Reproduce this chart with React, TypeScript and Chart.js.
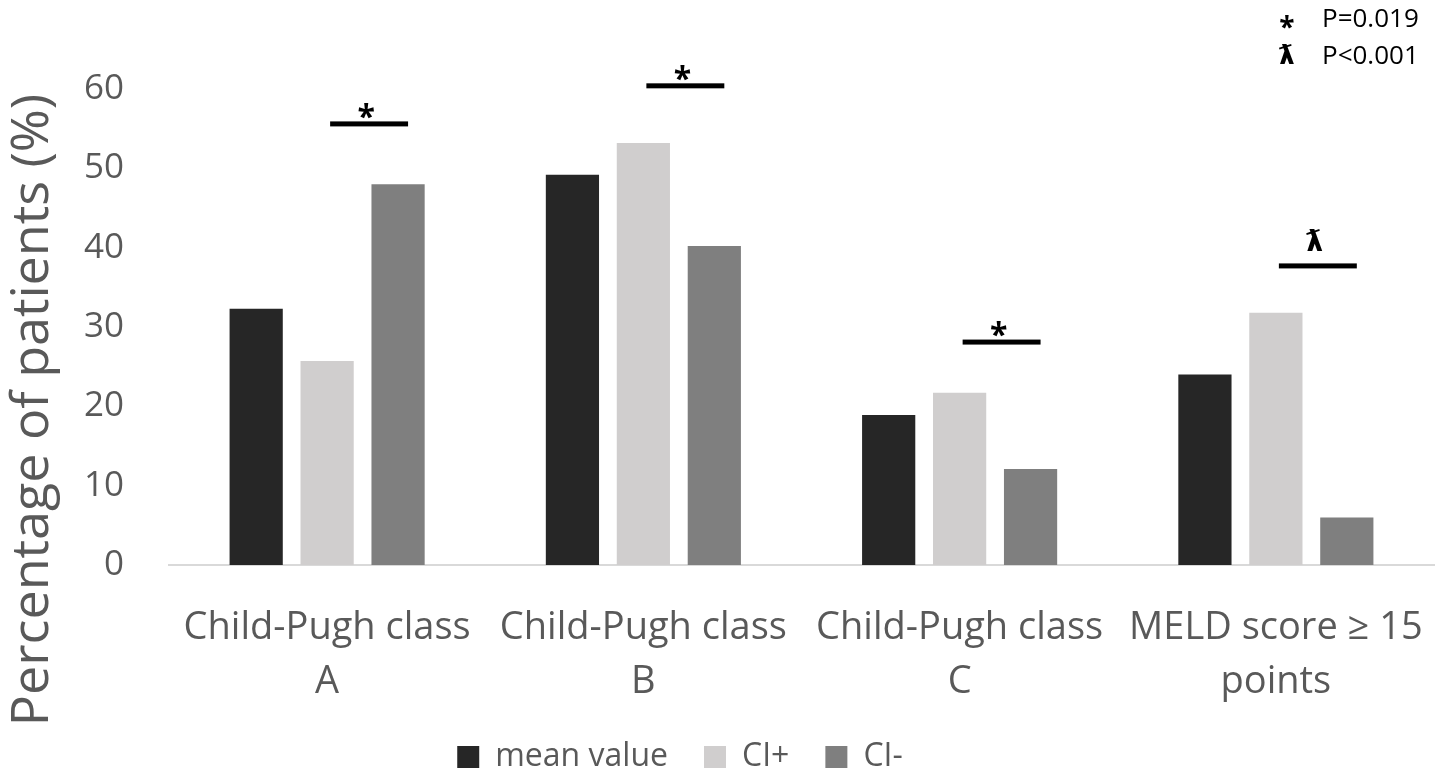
import { useEffect, useRef } from "react";
import { Chart, registerables } from "chart.js";

Chart.register(...registerables);

// Categories (two-line tick labels)
const categories: string[][] = [
  ["Child-Pugh class", "A"],
  ["Child-Pugh class", "B"],
  ["Child-Pugh class", "C"],
  ["MELD score ≥ 15", "points"],
];

// Series values, percentage of patients
const seriesNames = ["mean value", "CI+", "CI-"];
const meanValues = [32.3, 49.2, 18.9, 24.0];
const ciPlusValues = [25.7, 53.2, 21.7, 31.8];
const ciMinusValues = [48.0, 40.2, 12.1, 6.0];

// Y axis range and tick step
const yMin = 0;
const yMax = 60;
const yStep = 10;

// Significance brackets between CI+ and CI- for each category
const sigSymbols = ["*", "*", "*", "ƛ"];
const sigLevels = [55.6, 60.4, 28.1, 37.7];

// P-value key in the top-right corner
const keySymbols = ["*", "ƛ"];
const keyTexts = ["P=0.019", "P<0.001"];

const yTitle = "Percentage of patients (%)";

const FONT = "'Open Sans', 'DejaVu Sans', sans-serif";
const SYMBOL_FONT = "'DejaVu Sans', sans-serif";
const TEXT_GRAY = "#595959";
const COLORS = ["#262626", "#D0CECE", "#7F7F7F"];

const annotations = {
  id: "annotations",
  afterDatasetsDraw(chart: any) {
    const { ctx } = chart;
    const y = chart.scales.y;
    const plusMeta = chart.getDatasetMeta(1);
    const minusMeta = chart.getDatasetMeta(2);
    ctx.save();
    ctx.fillStyle = "#000";
    ctx.textAlign = "center";
    sigLevels.forEach((lvl, i) => {
      const x0 = plusMeta.data[i].x + 3;
      const x1 = minusMeta.data[i].x + 10;
      const py = y.getPixelForValue(lvl);
      ctx.fillRect(x0, py - 2.5, x1 - x0, 5);
      const cx = (x0 + x1) / 2 - 3;
      if (sigSymbols[i] === "*") {
        ctx.font = `bold 32px ${FONT}`;
        ctx.textBaseline = "alphabetic";
        ctx.fillText(sigSymbols[i], cx, py + 4);
      } else {
        ctx.font = `bold 28px ${SYMBOL_FONT}`;
        ctx.textBaseline = "middle";
        ctx.fillText(sigSymbols[i], cx, py - 22);
      }
    });
    ctx.restore();
  },
  afterDraw(chart: any) {
    const { ctx } = chart;
    ctx.save();
    // rotated y-axis title
    ctx.translate(33, 410);
    ctx.rotate(-Math.PI / 2);
    ctx.font = `52px ${FONT}`;
    ctx.fillStyle = TEXT_GRAY;
    ctx.textAlign = "center";
    ctx.textBaseline = "middle";
    ctx.fillText(yTitle, 0, 0);
    ctx.restore();

    // P-value key
    ctx.save();
    ctx.fillStyle = "#000";
    keySymbols.forEach((s, i) => {
      const ty = 20 + i * 37;
      ctx.textAlign = "center";
      if (s === "*") {
        ctx.font = `bold 28px ${FONT}`;
        ctx.textBaseline = "alphabetic";
        ctx.fillText(s, 1287, ty + 17);
      } else {
        ctx.font = `bold 26px ${SYMBOL_FONT}`;
        ctx.textBaseline = "middle";
        ctx.fillText(s, 1287, ty);
      }
      ctx.font = `26px ${FONT}`;
      ctx.textAlign = "left";
      ctx.textBaseline = "middle";
      ctx.fillText(keyTexts[i], 1322, ty);
    });
    ctx.restore();
  },
};

export default function App() {
  const canvasRef = useRef<HTMLCanvasElement | null>(null);

  useEffect(() => {
    const canvas = canvasRef.current;
    if (!canvas) return;
    const chart = new Chart(canvas, {
      type: "bar",
      data: {
        labels: categories,
        datasets: [
          { label: seriesNames[0], data: meanValues, backgroundColor: COLORS[0] },
          { label: seriesNames[1], data: ciPlusValues, backgroundColor: COLORS[1] },
          { label: seriesNames[2], data: ciMinusValues, backgroundColor: COLORS[2] },
        ],
      },
      options: {
        animation: false,
        responsive: true,
        maintainAspectRatio: false,
        datasets: {
          bar: { categoryPercentage: 0.673, barPercentage: 0.75 },
        },
        layout: { padding: { top: 89, right: 13, left: -74, bottom: -9 } },
        plugins: {
          title: { display: false },
          tooltip: { enabled: false },
          legend: {
            position: "bottom",
            labels: {
              boxWidth: 22,
              boxHeight: 22,
              padding: 36,
              color: TEXT_GRAY,
              font: { family: FONT, size: 32 },
            },
          },
        },
        scales: {
          x: {
            grid: { display: false, drawTicks: false },
            border: { display: true, color: "#D9D9D9", width: 2 },
            ticks: {
              color: TEXT_GRAY,
              font: { family: FONT, size: 38, lineHeight: 1.42 },
              padding: 36,
              maxRotation: 0,
              autoSkip: false,
            },
            afterFit: (s: any) => {
              s.height = 140;
              // labels may overhang the plot edges; keep the plot width fixed
              s.paddingLeft = 0;
              s.paddingRight = 0;
            },
          },
          y: {
            min: yMin,
            max: yMax,
            grid: { display: false, drawTicks: false },
            border: { display: false },
            ticks: {
              stepSize: yStep,
              color: TEXT_GRAY,
              font: { family: FONT, size: 35 },
              padding: 45,
            },
            afterFit: (s: any) => {
              s.width = 243;
            },
          },
        },
      },
      plugins: [annotations],
    });
    return () => chart.destroy();
  }, []);

  return (
    <div style={{ position: "absolute", left: 0, top: 0, width: 1447, height: 774, background: "#fff" }}>
      <canvas ref={canvasRef} />
    </div>
  );
}
